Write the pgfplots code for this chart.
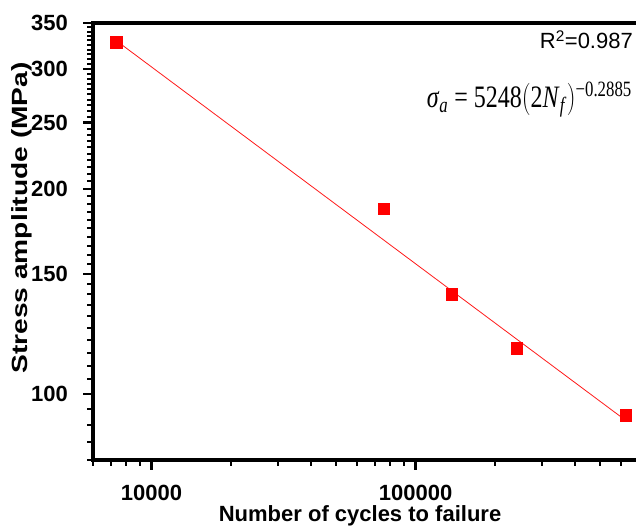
\documentclass[border=0pt]{standalone}
\usepackage{fontspec}
\setmainfont{Liberation Sans}
\newfontfamily\serif{Liberation Serif}
\usepackage{pgfplots}
\pgfplotsset{compat=1.18}
\begin{document}
\begin{tikzpicture}
\begin{axis}[
  at={(93bp,66bp)}, anchor=south west,
  scale only axis, width=545bp, height=437bp,
  xmode=log, ymode=log,
  xmin=6000, xmax=696000, ymin=80, ymax=350,
  xtick={10000,100000},
  xticklabels={10000,100000},
  minor xtick={6000,7000,8000,9000,20000,30000,40000,50000,60000,70000,80000,90000,200000,300000,400000,500000,600000},
  ytick={100,150,200,250,300,350},
  yticklabels={100,150,200,250,300,350},
  minor ytick={80,85,90,95,105,110,115,120,125,130,135,140,145,155,160,165,170,175,180,185,190,195,205,210,215,220,225,230,235,240,245,255,260,265,270,275,280,285,290,295,305,310,315,320,325,330,335,340,345},
  tick align=outside, xtick pos=bottom, ytick pos=left,
  major tick length=10bp, minor tick length=6bp,
  every tick/.style={black, line width=2.2bp},
  every minor tick/.style={black, line width=2bp},
  axis line style={line width=3.5bp},
  every x tick label/.append style={anchor=base, inner sep=0pt, yshift=-31bp},
  every y tick label/.append style={anchor=east, inner sep=0pt, xshift=-15bp},
  ticklabel style={font=\fontsize{22bp}{26bp}\selectfont\bfseries},
  xlabel={Number of cycles to failure},
  xlabel style={at={(axis description cs:0.49,-0.1405)}, anchor=base, inner sep=0pt, font=\fontsize{22bp}{26bp}\selectfont\bfseries},
  ylabel={\scalebox{1.28}[1]{Stress amplitude (MPa)}},
  ylabel style={at={(axis description cs:-0.130,0.554)}, anchor=center, font=\fontsize{22bp}{26bp}\selectfont\bfseries},
  clip=false,
]
\addplot[red!90!white, line width=0.8bp] coordinates {(7350,329.7) (626000,91.4)};
\addplot[only marks, mark=square*, mark size=5.8bp, mark options={fill=red, draw=red, line width=0.4bp}] coordinates {
(7350,327.8) (75860,186.9) (137200,140.0) (241300,116.6) (626000,93.1)};
\end{axis}
\node[anchor=base east, inner sep=0pt, font=\fontsize{22bp}{26bp}\selectfont] at (633bp,477bp) {R\textsuperscript{2}=0.987};
\node[anchor=base east, inner sep=0pt, font=\fontsize{24bp}{28bp}\selectfont\serif] at (632bp,418bp) {\scalebox{1}[1.3]{\textit{σ}\textsubscript{\textit{a}} = 5248$\Big($2\textit{N}\textsubscript{\textit{f}}$\Big)$\textsuperscript{−0.2885}}};
\pgfresetboundingbox
\path (0,0) rectangle (636bp,526bp);
\end{tikzpicture}
\end{document}
